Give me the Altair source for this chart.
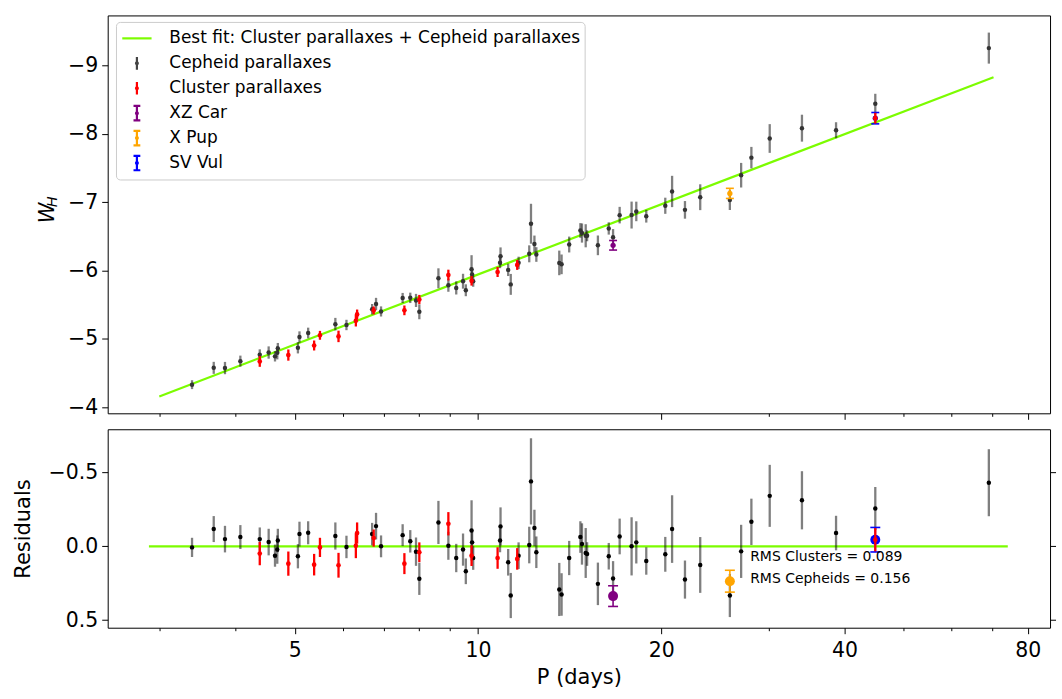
import altair as alt
import pandas as pd

# ---------------- data ----------------
ceph_P = [3.39, 3.68, 3.84, 4.07, 4.38, 4.53, 4.64, 4.68, 4.69, 5.06, 5.09, 5.26, 5.83, 6.08,
          6.70, 6.80, 6.93, 7.52, 7.74, 7.91, 8.01, 8.61, 8.94, 9.21, 9.45, 9.55, 9.76, 9.78,
          9.82, 10.87, 10.89, 11.21, 11.32, 11.66, 12.14, 12.22, 12.38, 12.47, 13.60, 13.72,
          14.12, 14.73, 14.82, 15.03, 15.11, 15.74, 16.40, 16.67, 17.09, 17.88, 18.20, 18.90,
          20.31, 20.84, 21.88, 23.18, 25.93, 27.06, 28.13, 30.15, 34.06, 38.75, 44.95, 69.07]
ceph_W = [-4.332, -4.578, -4.575, -4.676, -4.770, -4.802, -4.746, -4.798, -4.863, -4.871,
          -5.028, -5.088, -5.217, -5.205, -5.436, -5.512, -5.403, -5.600, -5.602, -5.564,
          -5.398, -5.888, -5.786, -5.747, -5.845, -5.713, -6.022, -5.944, -5.844, -6.116,
          -6.211, -6.011, -5.799, -6.114, -6.246, -6.686, -6.389, -6.236, -6.113, -6.092,
          -6.382, -6.588, -6.550, -6.510, -6.510, -6.370, -6.617, -6.490, -6.812, -6.813,
          -6.866, -6.796, -6.949, -7.158, -6.889, -7.074, -7.033, -7.396, -7.653, -7.933,
          -8.084, -8.054, -8.441, -9.255]
ceph_res = [0.007, -0.117, -0.049, -0.063, -0.049, -0.029, 0.063, 0.022, -0.040, 0.067,
            -0.083, -0.092, -0.070, 0.004, -0.083, -0.137, 0.000, -0.076, -0.034, 0.036,
            0.220, -0.162, -0.004, 0.079, 0.022, 0.169, -0.108, -0.027, 0.079, -0.040,
            -0.135, 0.108, 0.333, 0.063, -0.009, -0.440, -0.124, 0.040, 0.292, 0.326,
            0.079, -0.063, -0.016, 0.045, 0.052, 0.254, 0.067, 0.218, -0.067, 0.000,
            -0.027, 0.099, 0.054, -0.117, 0.225, 0.126, 0.333, 0.034, -0.166, -0.342,
            -0.312, -0.090, -0.256, -0.431]
ceph_err = [0.065, 0.088, 0.090, 0.081, 0.079, 0.090, 0.075, 0.096, 0.079, 0.082,
            0.084, 0.078, 0.092, 0.076, 0.076, 0.090, 0.074, 0.074, 0.076, 0.096,
            0.109, 0.146, 0.095, 0.096, 0.109, 0.087, 0.204, 0.080, 0.080, 0.080,
            0.129, 0.090, 0.153, 0.090, 0.124, 0.292, 0.124, 0.107, 0.180, 0.144,
            0.116, 0.107, 0.140, 0.169, 0.080, 0.144, 0.090, 0.118, 0.121, 0.197,
            0.143, 0.093, 0.118, 0.229, 0.129, 0.189, 0.146, 0.180, 0.157, 0.210,
            0.197, 0.117, 0.146, 0.227]

clus_P = [4.38, 4.88, 5.38, 5.50, 5.90, 6.30, 6.33, 6.74, 7.57, 8.01, 8.94, 9.76, 10.77, 11.60, 44.95]
clus_W = [-4.672, -4.765, -4.905, -5.054, -5.038, -5.267, -5.359, -5.418, -5.419, -5.578,
          -5.935, -5.851, -5.980, -6.084, -8.230]
clus_res = [0.049, 0.117, 0.124, 0.007, 0.128, -0.004, -0.090, -0.056, 0.117, 0.040,
            -0.153, 0.063, 0.079, 0.085, -0.045]
clus_err = [0.079, 0.082, 0.073, 0.065, 0.084, 0.084, 0.072, 0.058, 0.071, 0.067,
            0.079, 0.070, 0.073, 0.073, 0.079]

star_names = ["XZ Car", "X Pup", "SV Vul"]
star_colors = ["#800080", "#FFA500", "#0000FF"]
star_P = [16.67, 25.93, 44.95]
star_W = [-6.371, -7.130, -8.230]
star_res = [0.337, 0.236, -0.045]
star_err = [0.070, 0.074, 0.083]

fit_P = [2.995, 70.3]
fit_W = [-4.16, -8.83]
zero_P = [2.88, 74.2]
zero_R = [0.0, 0.0]

rms_text = ["RMS Clusters = 0.089", "RMS Cepheids = 0.156"]
rms_P = [28.0, 28.0]
rms_R = [0.10, 0.25]

legend_labels = ["Best fit: Cluster parallaxes + Cepheid parallaxes", "Cepheid parallaxes",
                 "Cluster parallaxes", "XZ Car", "X Pup", "SV Vul"]
legend_colors = ["#7CFC00", "#444444", "#FF0000", "#800080", "#FFA500", "#0000FF"]

x_major = [5, 10, 20, 40, 80]
x_minor = [3, 4, 6, 7, 8, 9, 30, 50, 60, 70]
w_ticks = [-9, -8, -7, -6, -5, -4]
r_ticks = [-0.5, 0.0, 0.5]

# ---------------- styling ----------------
FONT = "DejaVu Sans"
GREEN = "#7CFC00"
PW = 945
H_TOP = 399
H_BOT = 199

dot = "M-0.085,0A0.085,0.085 0 1,0 0.085,0A0.085,0.085 0 1,0 -0.085,0"
frame = "M0,-0.70L0,-0.70M0,0.70L0,0.70"   # zero-length: equal symbol bounds per entry
capped = "M0,-0.66V0.66M-0.31,-0.66H0.31M-0.31,0.66H0.31"
legend_paths = [
    frame + "M-1.335,0H1.335",
    frame + "M0,-0.577V0.577" + dot,
    frame + "M0,-0.577V0.577" + dot,
    frame + capped + dot,
    frame + capped + dot,
    frame + capped + dot,
]

xscale = alt.Scale(type="log", domain=[2.464, 87.06], nice=False)
wscale = alt.Scale(domain=[-9.733, -3.913], reverse=True, nice=False, zero=False)
rscale = alt.Scale(domain=[-0.793, 0.551], reverse=True, nice=False, zero=False)

common_axis = dict(domain=False, grid=False, tickColor="black", tickWidth=1,
                   labelFont=FONT, labelColor="black", labelFontSize=20.5)

ax_top_major = alt.Axis(orient="bottom", values=x_major, labels=False, tickSize=6, title=None,
                        **common_axis)
ax_minor = alt.Axis(orient="bottom", values=x_minor, labels=False, tickSize=3, title=None,
                    **common_axis)
ax_bot_major = alt.Axis(orient="bottom", values=x_major, format="d", tickSize=6, labelPadding=7,
                        title="P (days)", titleFont=FONT, titleFontSize=21,
                        titleFontWeight="normal", titleColor="black", titlePadding=5,
                        labelFlush=False, labelOverlap=False, **common_axis)
ax_w = alt.Axis(orient="left", values=w_ticks, format="d", tickSize=6, labelPadding=4,
                title=None, **common_axis)
ax_r_left = alt.Axis(orient="left", values=r_ticks, format=".1f", tickSize=6, labelPadding=4,
                     title="Residuals", titleFont=FONT, titleFontSize=21,
                     titleFontWeight="normal", titleColor="black", titlePadding=15,
                     **common_axis)
ax_r_right = alt.Axis(orient="right", values=r_ticks, labels=False, tickSize=5.5, title=None,
                      **common_axis)

# ---------------- tables ----------------
ceph = pd.DataFrame({"P": ceph_P, "W": ceph_W, "R": ceph_res, "E": ceph_err})
clus = pd.DataFrame({"P": clus_P, "W": clus_W, "R": clus_res, "E": clus_err})
star = pd.DataFrame({"name": star_names, "col": star_colors, "P": star_P, "W": star_W,
                     "R": star_res, "E": star_err})
for df in (ceph, clus, star):
    df["Wlo"] = df["W"] - df["E"]
    df["Whi"] = df["W"] + df["E"]
    df["Rlo"] = df["R"] - df["E"]
    df["Rhi"] = df["R"] + df["E"]
fit = pd.DataFrame({"P": fit_P, "W": fit_W})
zero = pd.DataFrame({"P": zero_P, "R": zero_R})
rms = pd.DataFrame({"P": rms_P, "R": rms_R, "t": rms_text})
leg = pd.DataFrame({"series": legend_labels})


def X(axis=None):
    return alt.X("P:Q", scale=xscale, axis=axis)


def YW(field="W", axis=None):
    return alt.Y(f"{field}:Q", scale=wscale, axis=axis)


def YR(field="R", axis=None):
    return alt.Y(f"{field}:Q", scale=rscale, axis=axis)


# ---------------- top panel ----------------
fit_line = alt.Chart(fit).mark_line(color=GREEN, strokeWidth=2.2).encode(
    x=X(ax_top_major), y=YW("W", ax_w))
ceph_bar = alt.Chart(ceph).mark_rule(color="black", opacity=0.5, strokeWidth=2.3).encode(
    x=X(ax_minor), y=YW("Wlo"), y2="Whi:Q")
ceph_pt = alt.Chart(ceph).mark_circle(color="#333333", size=20, opacity=1).encode(
    x=X(), y=YW())
star_bar = alt.Chart(star).mark_rule(strokeWidth=1.6).encode(
    x=X(), y=YW("Wlo"), y2="Whi:Q", stroke=alt.Stroke("col:N", scale=None))
star_cap_lo = alt.Chart(star).mark_rule(strokeWidth=1.6, xOffset=-4, x2Offset=4).encode(
    x=X(), x2="P:Q", y=YW("Wlo"), stroke=alt.Stroke("col:N", scale=None))
star_cap_hi = alt.Chart(star).mark_rule(strokeWidth=1.6, xOffset=-4, x2Offset=4).encode(
    x=X(), x2="P:Q", y=YW("Whi"), stroke=alt.Stroke("col:N", scale=None))
star_pt = alt.Chart(star).mark_circle(size=28, opacity=1).encode(
    x=X(), y=YW(), fill=alt.Fill("col:N", scale=None))
clus_bar = alt.Chart(clus).mark_rule(color="red", strokeWidth=2.3).encode(
    x=X(), y=YW("Wlo"), y2="Whi:Q")
clus_pt = alt.Chart(clus).mark_circle(color="red", size=22, opacity=1).encode(
    x=X(), y=YW())

legend_def = alt.Legend(
    title=None, orient="none", legendX=8.3, legendY=6.5,
    labelFont=FONT, labelFontSize=17, labelColor="black", labelLimit=0,
    symbolSize=484, symbolStrokeWidth=2.2, symbolOpacity=1,
    padding=4, rowPadding=0, symbolOffset=4.5, labelOffset=20,
    fillColor="white", strokeColor="#cccccc", cornerRadius=4)
legend_layer = alt.Chart(leg).mark_point(filled=False).encode(
    color=alt.Color("series:N", scale=alt.Scale(domain=legend_labels, range=legend_colors),
                    legend=legend_def),
    shape=alt.Shape("series:N", scale=alt.Scale(domain=legend_labels, range=legend_paths),
                    legend=legend_def),
).transform_filter("false")

w_title = alt.Chart(pd.DataFrame({"t": ["W"]})).mark_text(
    angle=270, align="center", baseline="alphabetic", font=FONT, fontSize=21,
    fontStyle="italic", color="black").encode(
    x=alt.value(-54), y=alt.value(198), text="t:N")
h_title = alt.Chart(pd.DataFrame({"t": ["H"]})).mark_text(
    angle=270, align="center", baseline="alphabetic", font=FONT, fontSize=14.5,
    fontStyle="italic", color="black").encode(
    x=alt.value(-50.5), y=alt.value(187), text="t:N")

top = alt.layer(
    fit_line, ceph_bar, ceph_pt, star_bar, star_cap_lo, star_cap_hi, star_pt,
    clus_bar, clus_pt, legend_layer, w_title, h_title
).resolve_axis(x="independent", y="independent").properties(width=PW, height=H_TOP)

# ---------------- bottom panel ----------------
zero_line = alt.Chart(zero).mark_line(color=GREEN, strokeWidth=2.2).encode(
    x=X(ax_bot_major), y=YR("R", ax_r_left))
ceph_bar_b = alt.Chart(ceph).mark_rule(color="black", opacity=0.5, strokeWidth=2.3).encode(
    x=X(ax_minor), y=YR("Rlo", ax_r_right), y2="Rhi:Q")
ceph_pt_b = alt.Chart(ceph).mark_circle(color="black", size=20, opacity=1).encode(
    x=X(), y=YR())
star_bar_b = alt.Chart(star).mark_rule(strokeWidth=1.6).encode(
    x=X(), y=YR("Rlo"), y2="Rhi:Q", stroke=alt.Stroke("col:N", scale=None))
star_cap_lo_b = alt.Chart(star).mark_rule(strokeWidth=1.6, xOffset=-5, x2Offset=5).encode(
    x=X(), x2="P:Q", y=YR("Rlo"), stroke=alt.Stroke("col:N", scale=None))
star_cap_hi_b = alt.Chart(star).mark_rule(strokeWidth=1.6, xOffset=-5, x2Offset=5).encode(
    x=X(), x2="P:Q", y=YR("Rhi"), stroke=alt.Stroke("col:N", scale=None))
star_pt_b = alt.Chart(star).mark_circle(size=100, opacity=1).encode(
    x=X(), y=YR(), fill=alt.Fill("col:N", scale=None))
clus_bar_b = alt.Chart(clus).mark_rule(color="red", strokeWidth=2.3).encode(
    x=X(), y=YR("Rlo"), y2="Rhi:Q")
clus_pt_b = alt.Chart(clus).mark_circle(color="red", size=22, opacity=1).encode(
    x=X(), y=YR())
rms_txt = alt.Chart(rms).mark_text(align="left", baseline="alphabetic", font=FONT,
                                   fontSize=14, color="black").encode(
    x=X(), y=YR(), text="t:N")

bottom = alt.layer(
    zero_line, ceph_bar_b, ceph_pt_b, star_bar_b, star_cap_lo_b, star_cap_hi_b, star_pt_b,
    clus_bar_b, clus_pt_b, rms_txt
).resolve_axis(x="independent", y="independent").properties(width=PW, height=H_BOT)

chart = alt.vconcat(top, bottom, spacing=16, bounds="flush").resolve_scale(
    color="independent", shape="independent"
).configure_view(stroke="black", strokeWidth=1).properties(
    padding={"left": 11, "top": 13.5, "right": 5, "bottom": 5},
    background="white",
)

chart.save("out.html", embed_options={"renderer": "svg", "actions": False})
